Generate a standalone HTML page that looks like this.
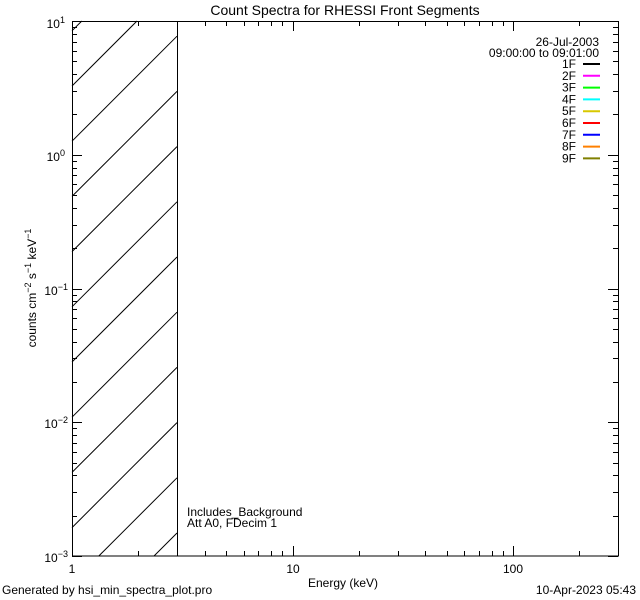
<!DOCTYPE html>
<html><head><meta charset="utf-8"><style>
html,body{margin:0;padding:0;background:#fff;width:640px;height:600px;overflow:hidden;}
svg{display:block;font-family:"Liberation Sans",sans-serif;}
</style></head><body>
<svg id="s" width="640" height="600" viewBox="0 0 640 600" xmlns="http://www.w3.org/2000/svg" overflow="hidden">
<g id="hatch" stroke="#000" stroke-width="1"></g>
<rect x="72.5" y="21.5" width="546" height="534.5" fill="none" stroke="#000"/>
<line x1="177.5" y1="21" x2="177.5" y2="556" stroke="#000"/>
<g id="ticks" stroke="#000" stroke-width="1"></g>
<text x="345" y="15" font-size="14" text-anchor="middle">Count Spectra for RHESSI Front Segments</text>
<g font-size="12">
<text x="65" y="28" text-anchor="end">10<tspan dy="-5" font-size="9">1</tspan></text>
<text x="65" y="161" text-anchor="end">10<tspan dy="-5" font-size="9">0</tspan></text>
<text x="68" y="295" text-anchor="end">10<tspan dy="-5" font-size="9">−1</tspan></text>
<text x="68" y="428" text-anchor="end">10<tspan dy="-5" font-size="9">−2</tspan></text>
<text x="68" y="562" text-anchor="end">10<tspan dy="-5" font-size="9">−3</tspan></text>
<text x="72" y="573" text-anchor="middle">1</text>
<text x="293" y="573" text-anchor="middle">10</text>
<text x="513" y="573" text-anchor="middle">100</text>
<text x="343" y="587" text-anchor="middle">Energy (keV)</text>
<text transform="translate(36,288) rotate(-90)" text-anchor="middle">counts cm<tspan dy="-5" font-size="9">−2</tspan><tspan dy="5"> s</tspan><tspan dy="-5" font-size="9">−1</tspan><tspan dy="5"> keV</tspan><tspan dy="-5" font-size="9">−1</tspan></text>
<text x="187" y="516">Includes_Background</text>
<text x="187" y="527">Att A0, FDecim 1</text>
<text x="2" y="594">Generated by hsi_min_spectra_plot.pro</text>
<text x="636" y="594" text-anchor="end">10-Apr-2023 05:43</text>
<text x="599" y="46" text-anchor="end">26-Jul-2003</text>
<text x="599" y="57" text-anchor="end">09:00:00 to 09:01:00</text>
</g>
<g id="leg" font-size="12"></g>
</svg>
<script>
var NS="http://www.w3.org/2000/svg";
function el(p,t,a,txt){var e=document.createElementNS(NS,t);for(var k in a)e.setAttribute(k,a[k]);if(txt)e.textContent=txt;p.appendChild(e);return e;}
var h=document.getElementById('hatch');
for(var k=-3;k<12;k++){var b=86+55.2*k;
 // y = b - (x-72); clip x in [72,177], y in [21,556]
 var xa=72,ya=b; if(ya>556){xa=72+(ya-556);ya=556;}
 var xb=177,yb=b-105; if(yb<21){xb=72+(b-21);yb=21;}
 if(xa<xb && xa<=177 && xb>=72) el(h,'line',{x1:xa,y1:ya,x2:xb,y2:yb});}
var t=document.getElementById('ticks');
var X0=72,DX=220.5,Y0=556,DY=133.75;
for(var d=0;d<3;d++)for(var m=1;m<10;m++){var v=Math.log10(m)+d;var x=X0+v*DX;if(x>618)break;var L=m==1?10:5;x=Math.round(x)+0.5;
el(t,'line',{x1:x,y1:556,x2:x,y2:556-L});el(t,'line',{x1:x,y1:21,x2:x,y2:21+L});}
for(var d=0;d<4;d++)for(var m=1;m<10;m++){var y=Y0-(d+Math.log10(m))*DY;var L=m==1?10:5;y=Math.round(y)+0.5;
el(t,'line',{x1:72,y1:y,x2:72+L,y2:y});el(t,'line',{x1:618,y1:y,x2:618-L,y2:y});}
var lg=document.getElementById('leg');
var cols=['#000','#ff00ff','#00ff00','#00ffff','#d8c800','#ff0000','#0000ff','#ff8000','#808000'];
for(var i=0;i<9;i++){var y=64+11.8*i;el(lg,'text',{x:576,y:y+4,'text-anchor':'end'},(i+1)+'F');el(lg,'line',{x1:583,y1:y,x2:600,y2:y,stroke:cols[i],'stroke-width':2});}
</script>
</body></html>
